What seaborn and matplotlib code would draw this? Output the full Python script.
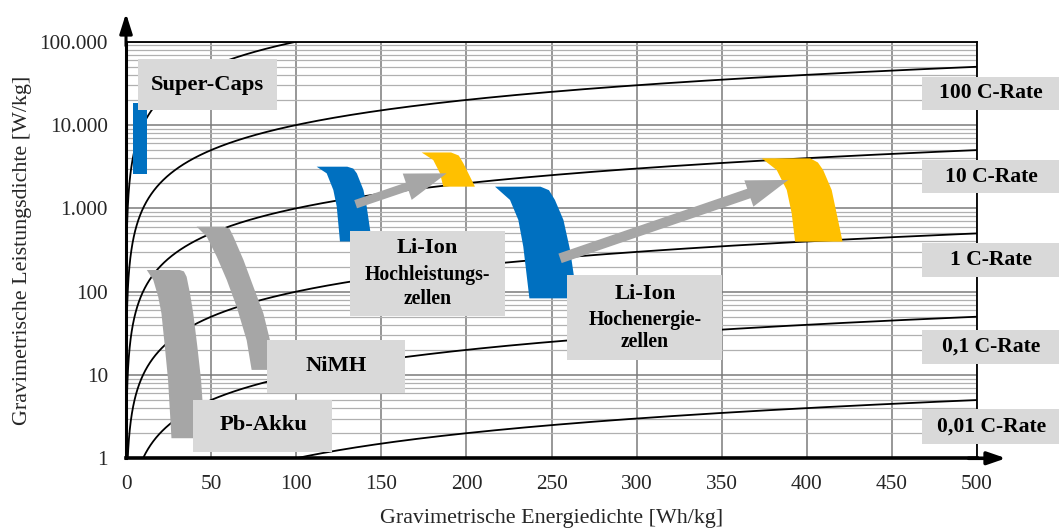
import numpy as np
import pandas as pd
import matplotlib
matplotlib.use("Agg")
import matplotlib.pyplot as plt
from matplotlib.patches import Rectangle
from matplotlib.ticker import FixedLocator, LogLocator, NullFormatter
import seaborn as sns

# ---- data ---------------------------------------------------------------
c_rates = [1000, 100, 10, 1, 0.1, 0.01]          # P = C * E reference lines
labelled_rates = [100, 10, 1, 0.1, 0.01]

x_ticks = [0, 50, 100, 150, 200, 250, 300, 350, 400, 450, 500]
y_ticks = [1, 10, 100, 1000, 10000, 100000]
y_tick_labels = ["1", "10", "100", "1.000", "10.000", "100.000"]

supercaps_energy = [4.3, 12.3]
supercaps_power = [2570, 18600]

pb_left_e = [12.2, 16.0, 18.9, 20.8, 22.8, 24.7, 26.7]
pb_left_p = [182, 138, 87, 55, 22, 8.7, 1.74]
pb_right_e = [31.5, 34.0, 35.6, 37.6, 39.5, 41.9, 44.1, 46.4]
pb_right_p = [182, 175, 151, 95, 55, 22, 8.7, 1.74]

nimh_left_e = [41.5, 47.4, 53.3, 59.2, 65.0, 70.9, 73.8]
nimh_left_p = [603, 457, 263, 138, 66, 26, 11.5]
nimh_right_e = [57.5, 60.8, 63.1, 69.0, 74.8, 80.7, 84.6, 87.0]
nimh_right_p = [603, 570, 457, 240, 115, 55, 26, 11.5]

hl_now_left_e = [112.0, 117.9, 121.8, 123.8, 125.7]
hl_now_left_p = [3160, 2630, 1660, 1050, 400]
hl_now_right_e = [130.0, 133.5, 135.6, 139.5, 141.4, 144.4]
hl_now_right_p = [3160, 3000, 2630, 1660, 1050, 400]

hl_next_left_e = [173.7, 180.5, 184.5, 186.4]
hl_next_left_p = [4680, 3800, 2630, 1820]
hl_next_right_e = [191.0, 195.5, 198.2, 202.1, 205.0]
hl_next_right_p = [4680, 4300, 3470, 2400, 1820]

he_now_left_e = [216.8, 225.6, 230.5, 233.4, 237.0]
he_now_left_p = [1820, 1260, 725, 347, 83]
he_now_right_e = [243.5, 248.5, 252.0, 257.0, 260.9, 265.1]
he_now_right_p = [1820, 1650, 1260, 725, 316, 83]

he_next_left_e = [373.5, 382.3, 388.2, 391.1, 393.1]
he_next_left_p = [3980, 2880, 1660, 870, 398]
he_next_right_e = [402.0, 406.5, 409.6, 414.6, 417.5, 421.0]
he_next_right_p = [3980, 3550, 2880, 1660, 870, 398]

hl_arrow_from = (134.9, 1120)
hl_arrow_to = (188.4, 2630)
he_arrow_from = (255.0, 251)
he_arrow_to = (389.1, 2190)

# ---- style --------------------------------------------------------------
sns.set_theme(style="white")
plt.rcParams["font.family"] = ["Liberation Serif", "DejaVu Serif"]

BLUE = "#0070C0"
YELLOW = "#FFC000"
GREY = "#A6A6A6"
BOX = "#D9D9D9"

fig = plt.figure(figsize=(10.59, 5.29), dpi=100)
ax = fig.add_axes([0.119, 0.1337, 0.8036, 0.7875])

# C-rate lines
energy = np.geomspace(1e-3, 500, 3000)
curves = pd.DataFrame({
    "E": np.tile(energy, len(c_rates)),
    "P": np.concatenate([c * energy for c in c_rates]),
    "rate": np.repeat(c_rates, len(energy)),
})
sns.lineplot(data=curves, x="E", y="P", units="rate", estimator=None,
             sort=False, color="black", lw=1.3, legend=False, ax=ax, zorder=2)

ax.set_yscale("log")
ax.set_xlim(0, 500)
ax.set_ylim(1, 1e5)

ax.xaxis.set_major_locator(FixedLocator(x_ticks))
ax.set_xticklabels([str(t) for t in x_ticks])
ax.yaxis.set_major_locator(FixedLocator(y_ticks))
ax.set_yticklabels(y_tick_labels)
ax.yaxis.set_minor_locator(LogLocator(base=10, subs=range(2, 10), numticks=20))
ax.yaxis.set_minor_formatter(NullFormatter())

ax.set_axisbelow(True)
ax.grid(axis="x", which="major", color="#7a7a7a", lw=1.1)
ax.grid(axis="y", which="major", color="#7a7a7a", lw=1.1)
ax.grid(axis="y", which="minor", color="#b0b0b0", lw=0.9)

ax.tick_params(axis="both", which="both", length=0, labelsize=15.3)
ax.tick_params(axis="x", pad=12)
ax.tick_params(axis="y", pad=13)

for side, lw in (("left", 2.2), ("bottom", 2.6), ("top", 1.3), ("right", 1.3)):
    ax.spines[side].set_color("black")
    ax.spines[side].set_linewidth(lw)

ax.set_xlabel("Gravimetrische Energiedichte [Wh/kg]", fontsize=15.8)
ax.set_ylabel("Gravimetrische Leistungsdichte [W/kg]", fontsize=15.8)
ax.xaxis.set_label_coords(0.5, -0.122)
ax.yaxis.set_label_coords(-0.110, 0.5)

# axis arrows
ax.annotate("", xy=(0, 1.068), xytext=(0, 0.99), xycoords="axes fraction",
            arrowprops=dict(arrowstyle="-|>,head_length=12,head_width=3.8",
                            mutation_scale=1, lw=2.2, color="black",
                            shrinkA=0, shrinkB=0), annotation_clip=False)
ax.annotate("", xy=(1.034, 0), xytext=(0.99, 0), xycoords="axes fraction",
            arrowprops=dict(arrowstyle="-|>,head_length=11,head_width=3.8",
                            mutation_scale=1, lw=2.6, color="black",
                            shrinkA=0, shrinkB=0), annotation_clip=False)

# technology regions
def band(le, lp, re, rp, color):
    ax.fill(list(le) + list(re)[::-1], list(lp) + list(rp)[::-1],
            color=color, lw=0, zorder=3)

ax.fill([supercaps_energy[0], supercaps_energy[1], supercaps_energy[1], supercaps_energy[0]],
        [supercaps_power[0], supercaps_power[0], supercaps_power[1], supercaps_power[1]],
        color=BLUE, lw=0, zorder=3)
band(pb_left_e, pb_left_p, pb_right_e, pb_right_p, GREY)
band(nimh_left_e, nimh_left_p, nimh_right_e, nimh_right_p, GREY)
band(hl_now_left_e, hl_now_left_p, hl_now_right_e, hl_now_right_p, BLUE)
band(hl_next_left_e, hl_next_left_p, hl_next_right_e, hl_next_right_p, YELLOW)
band(he_now_left_e, he_now_left_p, he_now_right_e, he_now_right_p, BLUE)
band(he_next_left_e, he_next_left_p, he_next_right_e, he_next_right_p, YELLOW)

for start, end, tail in ((hl_arrow_from, hl_arrow_to, 6.2), (he_arrow_from, he_arrow_to, 7.2)):
    ax.annotate("", xy=end, xytext=start, xycoords="data",
                arrowprops=dict(arrowstyle=f"simple,head_length=30,head_width=20,tail_width={tail}",
                                mutation_scale=1, color=GREY, lw=0,
                                shrinkA=0, shrinkB=0), zorder=4)

# label boxes (axes-fraction layout)
def box(x0, x1, y0, y1):
    ax.add_patch(Rectangle((x0, y0), x1 - x0, y1 - y0, transform=ax.transAxes,
                           fc=BOX, ec="none", zorder=5, clip_on=False))

def label(x, y, s, size):
    ax.text(x, y, s, transform=ax.transAxes, ha="center", va="center",
            fontsize=size, fontweight="bold", color="black", zorder=6, clip_on=False)

box(0.0141, 0.1774, 0.836, 0.9585)
label(0.0958, 0.897, "Super-Caps", 16.2)

box(0.0787, 0.2421, 0.0158, 0.1400)
label(0.1616, 0.080, "Pb-Akku", 16.2)

box(0.1657, 0.3278, 0.157, 0.284)
label(0.2468, 0.2216, "NiMH", 16.2)

box(0.2632, 0.4454, 0.3416, 0.5463)
label(0.3543, 0.505, "Li-Ion", 16.2)
label(0.3543, 0.441, "Hochleistungs-", 14.2)
label(0.3543, 0.383, "zellen", 14.2)

box(0.5179, 0.7000, 0.2364, 0.4400)
label(0.6099, 0.394, "Li-Ion", 16.2)
label(0.6099, 0.332, "Hochenergie-", 14.2)
label(0.6099, 0.280, "zellen", 14.2)

rate_boxes = [(0.836, 0.916), (0.636, 0.716), (0.436, 0.516), (0.2264, 0.308), (0.0343, 0.1176)]
for rate, (y0, y1) in zip(labelled_rates, rate_boxes):
    box(0.935, 1.0964, y0, y1)
    label(1.0165, (y0 + y1) / 2, f"{rate:g}".replace(".", ",") + " C-Rate", 15.6)

fig.savefig("out.png", dpi=100)
